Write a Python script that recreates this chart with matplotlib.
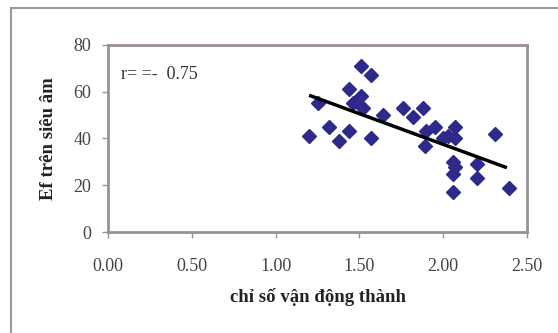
import matplotlib
matplotlib.use("Agg")
from matplotlib import pyplot as plt
from matplotlib.lines import Line2D

# scatter data
chi_so = [1.20, 1.25, 1.32, 1.38, 1.44, 1.44, 1.51, 1.57, 1.51, 1.46, 1.52, 1.57,
          1.64, 1.76, 1.82, 1.88, 1.89, 1.90, 1.95, 2.00, 2.03, 2.07, 2.07, 2.06,
          2.06, 2.06, 2.07, 2.20, 2.20, 2.31, 2.39]
ef = [41, 55, 45, 39, 43, 61, 71, 67, 58, 55, 53, 40,
      50, 53, 49, 53, 37, 43, 45, 40, 41, 45, 40, 30,
      25, 17, 28, 29, 23, 42, 19]
# linear trend line endpoints
trend_x = [1.20, 2.38]
trend_y = [58.5, 27.5]

x_ticks = [0.0, 0.5, 1.0, 1.5, 2.0, 2.5]
y_ticks = [0, 20, 40, 60, 80]

plt.rcParams['font.family'] = ['Liberation Serif', 'DejaVu Serif']

fig = plt.figure(figsize=(5.58, 3.33), dpi=100)
ax = fig.add_axes([0.1935, 0.3033, 0.751, 0.5616])

ax.plot(chi_so, ef, 'D', color='#2e2a8c', ms=7.5, mec='#2e2a8c')
ax.plot(trend_x, trend_y, color='black', lw=2.5, solid_capstyle='butt')
ax.text(0.08, 67.5, "r= =-  0.75", fontsize=13, color='#333333', va='center')

ax.set_xlim(0, 2.5)
ax.set_ylim(0, 80)
ax.set_xticks(x_ticks)
ax.set_xticklabels(["%.2f" % t for t in x_ticks])
ax.set_yticks(y_ticks)
ax.tick_params(colors='#9a9090', labelcolor='#444444', labelsize=13, length=4, width=1)
ax.tick_params(axis='x', pad=15)
ax.tick_params(axis='y', pad=8)
for s in ax.spines.values():
    s.set_color('#9c918e')
    s.set_linewidth(2)

ax.set_xlabel("chỉ số vận động thành", fontsize=13.5, fontweight='bold', color='#222222', labelpad=9)
ax.set_ylabel("Ef trên siêu âm", fontsize=13.5, fontweight='bold', color='#222222', labelpad=12)

# outer chart border (top and left only visible)
fig.add_artist(Line2D([11/558, 1], [1 - 8/333, 1 - 8/333], color='#9a9a9a', lw=1.5, transform=fig.transFigure))
fig.add_artist(Line2D([11/558, 11/558], [0, 1 - 8/333], color='#9a9a9a', lw=1.5, transform=fig.transFigure))

fig.savefig("out.png", dpi=100)
